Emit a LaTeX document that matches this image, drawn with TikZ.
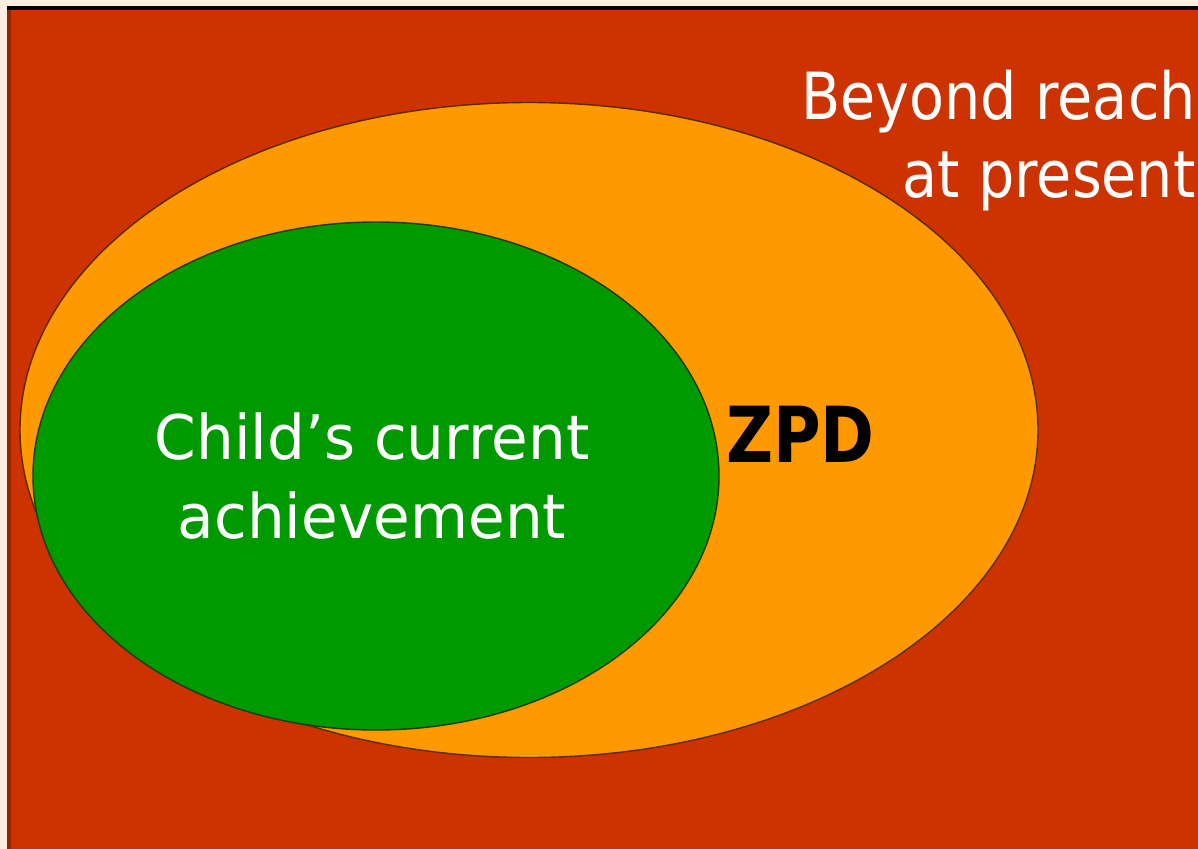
\documentclass[tikz,border=0pt]{standalone}
\usepackage{fontspec}
\setmainfont{DejaVu Sans}
\usetikzlibrary{shapes.geometric}
\definecolor{bgred}{HTML}{CC3300}
\definecolor{darkstrip}{HTML}{992200}
\definecolor{cream}{HTML}{FFEEDF}
\definecolor{zpdorange}{HTML}{FF9900}
\definecolor{achgreen}{HTML}{009900}
\definecolor{rimbrown}{HTML}{5A2A00}
\definecolor{rimgreen}{HTML}{1A3A00}
\begin{document}
\begin{tikzpicture}[x=0.02cm,y=-0.02cm,
  zone/.style={ellipse, inner sep=0pt, line width=0.8pt},
  whitetext/.style={inner sep=0pt, align=center, text=white, font=\fontsize{35}{45}\selectfont, xscale=0.97},
  outertext/.style={inner sep=0pt, align=right, text=white, font=\fontsize{37}{44}\selectfont, xscale=0.88},
  zpdtext/.style={inner sep=0pt, text=black, font=\bfseries\fontsize{44}{50}\selectfont, xscale=0.84}]
\useasboundingbox (0,0) rectangle (1198,849);
% page background
\fill[cream] (0,0) rectangle (1198,849);
\fill[bgred] (7,6) rectangle (1198,849);
\fill[darkstrip] (7,6) rectangle (11,849);
\fill[black] (7,6) rectangle (1198,10);
% zones
\node[zone, draw=rimbrown, fill=zpdorange, minimum width=1018*0.02cm, minimum height=655*0.02cm] (zpd) at (529,430) {};
\node[zone, draw=rimgreen, fill=achgreen, minimum width=686*0.02cm, minimum height=508*0.02cm] (child) at (376,476) {};
% labels
\node[whitetext] (childlbl) at (372,476) {Child’s current\\achievement};
\node[zpdtext, anchor=base west] (zpdlbl) at (726,462) {ZPD};
\node[outertext, anchor=north east] (beyond) at (1196,70) {Beyond reach\\at present};
\end{tikzpicture}
\end{document}
